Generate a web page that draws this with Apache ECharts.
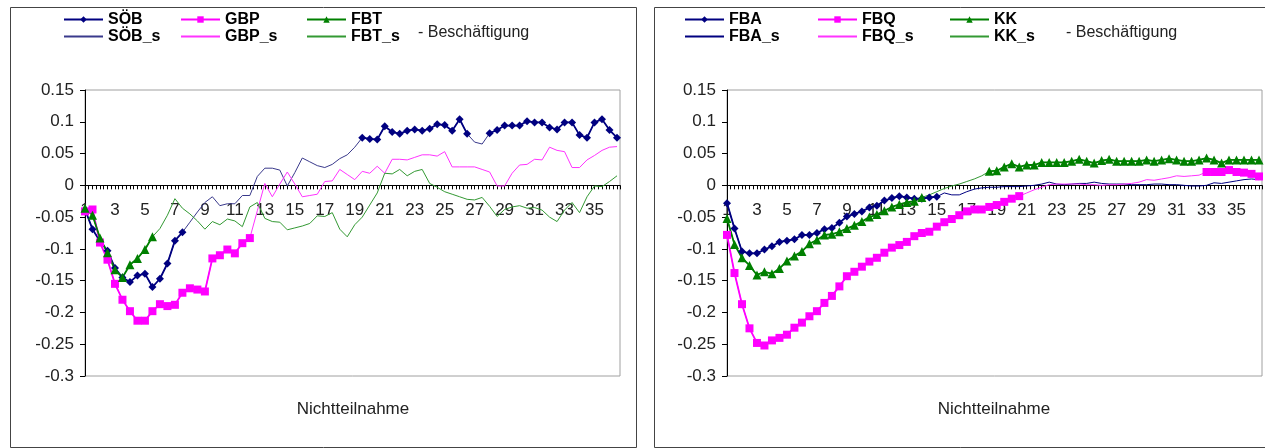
<!DOCTYPE html>
<html>
<head>
<meta charset="utf-8">
<script src="https://cdn.jsdelivr.net/npm/echarts@6/dist/echarts.min.js"></script>
<style>
html, body { margin: 0; padding: 0; background: #fff; }
#chart { width: 1265px; height: 448px; }
</style>
</head>
<body>
<div id="chart"></div>
<script>
// x tick labels, one per 4 data points (half steps)
const xTickLabels = ['1', '3', '5', '7', '9', '11', '13', '15', '17', '19', '21', '23', '25', '27', '29', '31', '33', '35'];

// left panel
const sob = [-0.038, -0.069, -0.088, -0.103, -0.130, -0.145, -0.152, -0.142, -0.139, -0.160, -0.147, -0.123, -0.087, -0.074,
  -0.058, -0.042, -0.027, -0.018, -0.032, -0.029, -0.029, -0.016, -0.016, 0.014, 0.027, 0.027, 0.024, -0.001, 0.020, 0.043,
  0.037, 0.031, 0.028, 0.033, 0.042, 0.048, 0.060, 0.075, 0.073, 0.072, 0.093, 0.084, 0.081, 0.086, 0.088, 0.086, 0.089,
  0.096, 0.095, 0.086, 0.104, 0.081, 0.068, 0.065, 0.082, 0.087, 0.094, 0.094, 0.094, 0.101, 0.099, 0.099, 0.091, 0.088,
  0.099, 0.099, 0.079, 0.075, 0.099, 0.104, 0.087, 0.075];
const gbp = [-0.041, -0.038, -0.090, -0.117, -0.155, -0.180, -0.198, -0.213, -0.213, -0.198, -0.187, -0.190, -0.188, -0.169,
  -0.162, -0.164, -0.167, -0.115, -0.110, -0.101, -0.107, -0.091, -0.083, -0.040, 0.003, -0.018, 0.002, 0.021, 0.002, -0.018,
  -0.016, -0.014, 0.006, 0.007, 0.025, 0.017, 0.009, 0.022, 0.019, 0.030, 0.019, 0.041, 0.041, 0.040, 0.044, 0.048, 0.048,
  0.046, 0.053, 0.029, 0.029, 0.029, 0.029, 0.025, 0.021, -0.001, -0.001, 0.019, 0.032, 0.033, 0.041, 0.040, 0.060, 0.055,
  0.053, 0.028, 0.028, 0.040, 0.047, 0.055, 0.060, 0.061];
const fbt = [-0.036, -0.047, -0.083, -0.106, -0.133, -0.145, -0.125, -0.115, -0.101, -0.081, -0.068, -0.047, -0.021, -0.036,
  -0.045, -0.056, -0.069, -0.057, -0.062, -0.053, -0.056, -0.065, -0.034, -0.027, -0.052, -0.057, -0.058, -0.070, -0.067,
  -0.064, -0.060, -0.048, -0.049, -0.043, -0.069, -0.081, -0.062, -0.050, -0.031, -0.012, 0.019, 0.018, 0.025, 0.015, 0.022,
  0.025, 0.003, -0.003, -0.010, -0.014, -0.018, -0.022, -0.023, -0.019, -0.033, -0.049, -0.038, -0.034, -0.032, -0.036,
  -0.035, -0.039, -0.050, -0.057, -0.039, -0.027, -0.043, -0.018, -0.001, -0.002, 0.006, 0.015];

// right panel
const fba = [-0.028, -0.068, -0.104, -0.107, -0.107, -0.101, -0.096, -0.089, -0.087, -0.085, -0.078, -0.078, -0.075, -0.069,
  -0.067, -0.059, -0.049, -0.045, -0.041, -0.035, -0.032, -0.024, -0.020, -0.017, -0.019, -0.021, -0.021, -0.019, -0.018,
  -0.012, -0.015, -0.015, -0.010, -0.006, -0.004, -0.003, -0.003, -0.002, -0.002, -0.002, -0.001, 0.000, 0.002, 0.005, 0.002,
  0.001, 0.002, 0.003, 0.003, 0.005, 0.003, 0.002, 0.002, 0.002, 0.001, 0.001, 0.001, 0.002, 0.002, 0.001, 0.001, 0.000,
  -0.001, -0.001, 0.000, 0.004, 0.003, 0.005, 0.007, 0.009, 0.010, 0.009];
const fbq = [-0.078, -0.138, -0.187, -0.225, -0.248, -0.252, -0.244, -0.240, -0.235, -0.224, -0.216, -0.206, -0.198, -0.185,
  -0.174, -0.159, -0.143, -0.136, -0.128, -0.120, -0.114, -0.106, -0.098, -0.094, -0.089, -0.080, -0.075, -0.073, -0.065,
  -0.058, -0.053, -0.047, -0.041, -0.038, -0.038, -0.034, -0.031, -0.026, -0.021, -0.017, -0.012, -0.007, -0.003, 0.001,
  0.002, 0.002, 0.002, 0.002, 0.001, 0.001, 0.000, 0.001, 0.001, 0.002, 0.003, 0.005, 0.009, 0.008, 0.010, 0.012, 0.015,
  0.014, 0.015, 0.016, 0.021, 0.021, 0.021, 0.024, 0.021, 0.020, 0.018, 0.014];
const kk = [-0.052, -0.093, -0.114, -0.126, -0.141, -0.136, -0.139, -0.131, -0.119, -0.111, -0.104, -0.092, -0.086, -0.078,
  -0.077, -0.073, -0.068, -0.063, -0.057, -0.050, -0.046, -0.040, -0.034, -0.030, -0.027, -0.025, -0.019, -0.015, -0.010,
  -0.005, -0.001, 0.002, 0.006, 0.010, 0.015, 0.022, 0.023, 0.029, 0.034, 0.029, 0.032, 0.032, 0.036, 0.036, 0.036, 0.036,
  0.038, 0.041, 0.038, 0.035, 0.039, 0.041, 0.038, 0.038, 0.038, 0.038, 0.040, 0.038, 0.040, 0.042, 0.040, 0.038, 0.038,
  0.040, 0.043, 0.040, 0.035, 0.040, 0.040, 0.040, 0.040, 0.040];

// stretches (index ranges) drawn with markers
const sobSig = [[0, 13], [37, 51], [54, 71]];
const gbpSig = [[0, 22]];
const fbtSig = [[0, 9]];
const fbaSig = [[0, 28]];
const fbqSig = [[0, 39], [64, 71]];
const kkSig = [[0, 26], [35, 71]];

const FONT = '"Liberation Sans", Arial, sans-serif';
const NAVY = '#000080';
const MAGENTA = '#ff00ff';
const GREEN = '#008000';

// plot box
const GRID_TOP = 90;
const GRID_H = 286;
const Y_MIN = -0.3;
const Y_MAX = 0.15;
// x axis sits on y = 0
const ZERO_OFFSET = -GRID_H * (-Y_MIN) / (Y_MAX - Y_MIN);

const pairs = vals => vals.map((v, i) => [i, v]);
const masked = (vals, ranges) => vals.map((v, i) => [i, ranges.some(r => i >= r[0] && i <= r[1]) ? v : '-']);

const markSeries = (name, vals, sig, color, symbol, size, g) => ({
    name, type: 'line', xAxisIndex: g, yAxisIndex: g,
    data: masked(vals, sig),
    symbol, symbolSize: size, showAllSymbol: true,
    lineStyle: { color, width: 1.8 },
    itemStyle: { color },
    z: 3
});

const thinSeries = (name, vals, color, g) => ({
    name, type: 'line', xAxisIndex: g, yAxisIndex: g,
    data: pairs(vals),
    symbol: 'none',
    lineStyle: { color, width: 1 },
    itemStyle: { color },
    z: 2
});

const xAxis = g => ({
    type: 'value', gridIndex: g, min: 0, max: 71.4, interval: 4,
    position: 'bottom', offset: ZERO_OFFSET,
    axisLine: { onZero: false, lineStyle: { color: '#000', width: 1 } },
    axisTick: { show: true, length: 4, lineStyle: { color: '#000' } },
    minorTick: { show: true, splitNumber: 8, length: 4, lineStyle: { color: '#000' } },
    splitLine: { show: false },
    minorSplitLine: { show: false },
    axisLabel: {
        margin: 16, fontSize: 17, color: '#222', fontFamily: FONT,
        formatter: v => (v % 4 === 0 && xTickLabels[v / 4]) ? xTickLabels[v / 4] : ''
    }
});

const yAxis = g => ({
    type: 'value', gridIndex: g, min: Y_MIN, max: Y_MAX, interval: 0.05,
    axisLine: { show: true, lineStyle: { color: '#000', width: 1 } },
    axisTick: { show: true, length: 5, lineStyle: { color: '#000' } },
    splitLine: { show: false },
    axisLabel: { margin: 11, fontSize: 17, color: '#222', fontFamily: FONT }
});

// first name has markers, second is the plain line
const legend = (names, left) => ({
    orient: 'vertical', left, top: 6, itemGap: 0,
    itemWidth: 39, itemHeight: 8,
    data: [names[0], { name: names[1], itemStyle: { opacity: 0 } }],
    textStyle: { fontSize: 16, fontWeight: 'bold', color: '#000', fontFamily: FONT, lineHeight: 17 },
    selectedMode: false
});

const chart = echarts.init(document.getElementById('chart'));
chart.setOption({
    animation: false,
    backgroundColor: '#fff',
    grid: [
        { left: 85, top: GRID_TOP, width: 535, height: GRID_H, show: true, borderColor: '#a0a0a0', borderWidth: 1 },
        { left: 727, top: GRID_TOP, width: 535, height: GRID_H, show: true, borderColor: '#a0a0a0', borderWidth: 1 }
    ],
    xAxis: [xAxis(0), xAxis(1)],
    yAxis: [yAxis(0), yAxis(1)],
    legend: [
        legend(['SÖB', 'SÖB_s'], 58),
        legend(['GBP', 'GBP_s'], 175),
        legend(['FBT', 'FBT_s'], 301),
        legend(['FBA', 'FBA_s'], 679),
        legend(['FBQ', 'FBQ_s'], 812),
        legend(['KK', 'KK_s'], 944)
    ],
    graphic: [
        { type: 'rect', shape: { x: 10.5, y: 7.5, width: 626, height: 440 }, style: { fill: 'none', stroke: '#444', lineWidth: 1 }, silent: true },
        { type: 'rect', shape: { x: 654.5, y: 7.5, width: 620, height: 440 }, style: { fill: 'none', stroke: '#444', lineWidth: 1 }, silent: true },
        { type: 'text', left: 418, top: 25, style: { text: '- Beschäftigung', fontSize: 16, fill: '#222', fontFamily: FONT } },
        { type: 'text', left: 1066, top: 25, style: { text: '- Beschäftigung', fontSize: 16, fill: '#222', fontFamily: FONT } },
        { type: 'text', x: 353, y: 409, style: { text: 'Nichtteilnahme', fontSize: 17, fill: '#222', fontFamily: FONT, align: 'center', verticalAlign: 'middle' } },
        { type: 'text', x: 994, y: 409, style: { text: 'Nichtteilnahme', fontSize: 17, fill: '#222', fontFamily: FONT, align: 'center', verticalAlign: 'middle' } }
    ],
    series: [
        thinSeries('SÖB_s', sob, '#3a3a8c', 0),
        thinSeries('GBP_s', gbp, '#ff33ff', 0),
        thinSeries('FBT_s', fbt, '#339933', 0),
        markSeries('SÖB', sob, sobSig, NAVY, 'diamond', 8, 0),
        markSeries('GBP', gbp, gbpSig, MAGENTA, 'rect', 8, 0),
        markSeries('FBT', fbt, fbtSig, GREEN, 'triangle', 9, 0),
        thinSeries('FBA_s', fba, NAVY, 1),
        thinSeries('FBQ_s', fbq, '#ff33ff', 1),
        thinSeries('KK_s', kk, '#339933', 1),
        markSeries('FBA', fba, fbaSig, NAVY, 'diamond', 8, 1),
        markSeries('FBQ', fbq, fbqSig, MAGENTA, 'rect', 8, 1),
        markSeries('KK', kk, kkSig, GREEN, 'triangle', 9, 1)
    ]
});
</script>
</body>
</html>
